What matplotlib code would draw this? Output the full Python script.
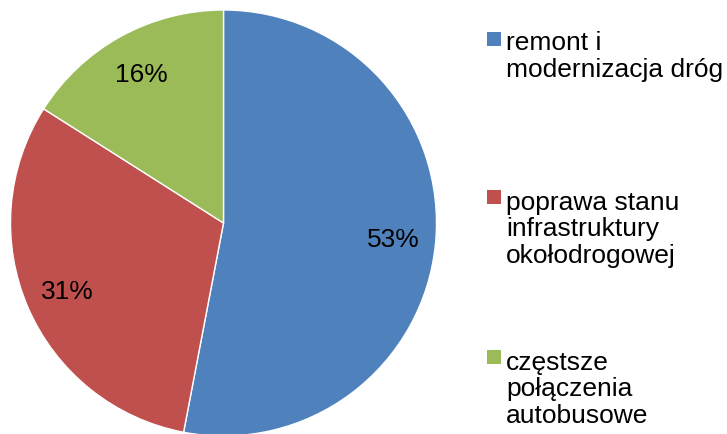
import matplotlib.pyplot as plt
from matplotlib.patches import Rectangle

plt.rcParams['font.family'] = ['Liberation Sans', 'DejaVu Sans']

categories = ["remont i\nmodernizacja dróg",
              "poprawa stanu\ninfrastruktury\nokołodrogowej",
              "częstsze\npołączenia\nautobusowe"]
shares = [53, 31, 16]
colors = ["#4F81BD", "#C0504D", "#9BBB59"]

W, H = 727, 435
fig = plt.figure(figsize=(W / 100, H / 100), dpi=100)

# pie centre and radius in pixels (from top-left)
cx, cy, r = 223.5, 224, 213
ax = fig.add_axes([(cx - r) / W, (H - cy - r) / H, 2 * r / W, 2 * r / H])
wedges, texts, autotexts = ax.pie(
    shares, colors=colors, startangle=90, counterclock=False,
    autopct=lambda p: "%d%%" % round(p), pctdistance=0.8,
    wedgeprops=dict(edgecolor="white", linewidth=1),
    textprops=dict(fontsize=19, color="black"))
ax.set_xlim(-1, 1)
ax.set_ylim(-1, 1)

# legend, entries with evenly spaced first baselines
first_baselines = [48, 206, 366]
line_px = 28.5
for label, col, yb in zip(categories, colors, first_baselines):
    fig.patches.append(Rectangle((487 / W, (H - yb + 1) / H), 14 / W, 14 / H,
                                 transform=fig.transFigure, facecolor=col,
                                 edgecolor="none"))
    # va="baseline" puts the last line on y, so push it down
    last = yb + line_px * label.count("\n")
    fig.text(506 / W, (H - last) / H, label, fontsize=19, va="baseline",
             ha="left", linespacing=1.14)

fig.savefig("out.png", dpi=100)
